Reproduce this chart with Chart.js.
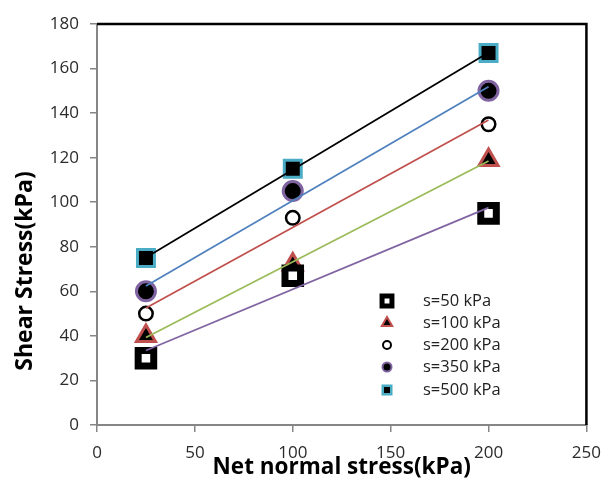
<!DOCTYPE html>
<html>
<head>
<meta charset="utf-8">
<script src="https://cdn.jsdelivr.net/npm/chart.js@4.4.1/dist/chart.umd.min.js"></script>
<style>
  html, body { margin: 0; padding: 0; background: #fff; }
  #wrap { width: 612px; height: 479px; }
</style>
</head>
<body>
<div id="wrap"><canvas id="shear-chart" width="612" height="479"></canvas></div>
<script>
// net normal stress (kPa) and shear stress (kPa) for each suction level
const netStress = [25, 100, 200];
const shear50 = [30, 67, 95];
const shear100 = [40, 72, 119];
const shear200 = [50, 93, 135];
const shear350 = [60, 105, 150];
const shear500 = [75, 115, 167];
const seriesLabels = ["s=50 kPa", "s=100 kPa", "s=200 kPa", "s=350 kPa", "s=500 kPa"];
const xTicks = [0, 50, 100, 150, 200, 250];
const yTicks = [0, 20, 40, 60, 80, 100, 120, 140, 160, 180];

const AXIS_GREY = "#868686";
const TEXT_GREY = "#2b2b2b";

// marker look for each series: plot size and legend size
const markers = [
  { style: "rect", fill: "#ffffff", border: "#000000", radius: 11, width: 7, legendRadius: 7, legendWidth: 5, line: "#8064a2" },
  { style: "triangle", fill: "#000000", border: "#c0504d", radius: 11, width: 3, legendRadius: 6, legendWidth: 2, line: "#9bbb59" },
  { style: "circle", fill: "#ffffff", border: "#000000", radius: 6.75, width: 2.5, legendRadius: 4, legendWidth: 2, line: "#c0504d" },
  { style: "circle", fill: "#000000", border: "#8064a2", radius: 9.5, width: 3, legendRadius: 4.5, legendWidth: 2, line: "#4f81bd" },
  { style: "rect", fill: "#000000", border: "#4bacc6", radius: 12, width: 3, legendRadius: 6, legendWidth: 2.5, line: "#000000" }
];
const allSeries = [shear50, shear100, shear200, shear350, shear500];

// least squares trend line through a series, evaluated at the first and last x
function trendLine(xs, ys) {
  const n = xs.length;
  const mx = xs.reduce((a, b) => a + b, 0) / n;
  const my = ys.reduce((a, b) => a + b, 0) / n;
  let sxy = 0, sxx = 0;
  for (let i = 0; i < n; i++) {
    sxy += (xs[i] - mx) * (ys[i] - my);
    sxx += (xs[i] - mx) * (xs[i] - mx);
  }
  const slope = sxy / sxx;
  const icpt = my - slope * mx;
  const x0 = xs[0], x1 = xs[n - 1];
  return [{ x: x0, y: icpt + slope * x0 }, { x: x1, y: icpt + slope * x1 }];
}

const datasets = [];
allSeries.forEach((ys, i) => {
  const m = markers[i];
  datasets.push({
    type: "scatter",
    label: seriesLabels[i],
    data: netStress.map((x, j) => ({ x: x, y: ys[j] })),
    pointStyle: m.style,
    pointRadius: m.radius,
    pointHoverRadius: m.radius,
    pointBackgroundColor: m.fill,
    pointBorderColor: m.border,
    pointBorderWidth: m.width,
    showLine: false,
    order: 2
  });
  datasets.push({
    type: "line",
    label: seriesLabels[i] + " trend",
    data: trendLine(netStress, ys),
    borderColor: m.line,
    borderWidth: 1.75,
    pointRadius: 0,
    fill: false,
    order: 1
  });
});

// black frame on the top and right of the plot area
const frame = {
  id: "frame",
  beforeDatasetsDraw(chart) {
    const { ctx, chartArea: a } = chart;
    ctx.save();
    ctx.strokeStyle = "#000";
    ctx.lineWidth = 2.5;
    ctx.beginPath();
    ctx.moveTo(a.left, a.top);
    ctx.lineTo(a.right, a.top);
    ctx.lineTo(a.right, a.bottom);
    ctx.stroke();
    ctx.restore();
  }
};

// legend box inside the plot and rotated y title
const sideText = {
  id: "sideText",
  afterDraw(chart) {
    const ctx = chart.ctx;
    ctx.save();
    const rows = [301, 323, 345, 367, 390];
    markers.forEach((m, i) => {
      ctx.fillStyle = m.fill;
      ctx.strokeStyle = m.border;
      ctx.lineWidth = m.legendWidth;
      Chart.helpers.drawPoint(ctx, {
        pointStyle: m.style, rotation: 0, radius: m.legendRadius, borderWidth: m.legendWidth
      }, 387, rows[i]);
      ctx.fillStyle = "#222";
      ctx.font = "16.5px 'Open Sans'";
      ctx.textAlign = "left";
      ctx.textBaseline = "middle";
      ctx.fillText(seriesLabels[i], 423, rows[i]);
    });

    ctx.translate(25, 271);
    ctx.rotate(-Math.PI / 2);
    ctx.fillStyle = "#000";
    ctx.font = "bold 23px 'Open Sans'";
    ctx.textAlign = "center";
    ctx.textBaseline = "middle";
    ctx.fillText("Shear Stress(kPa)", 0, 0);
    ctx.restore();
  }
};

Chart.defaults.font.family = "'Open Sans', sans-serif";

new Chart(document.getElementById("shear-chart"), {
  data: { datasets: datasets },
  options: {
    responsive: false,
    animation: false,
    events: [],
    layout: { padding: { left: 0, right: 17, top: 24, bottom: 0 } },
    plugins: {
      legend: { display: false },
      tooltip: { enabled: false }
    },
    scales: {
      x: {
        type: "linear",
        min: 0,
        max: 250,
        afterBuildTicks: (axis) => { axis.ticks = xTicks.map(v => ({ value: v })); },
        afterFit: (axis) => { axis.height = 54; },
        border: { color: AXIS_GREY, width: 2 },
        grid: { drawOnChartArea: false, tickLength: 7, color: AXIS_GREY, lineWidth: 1.5 },
        ticks: { color: TEXT_GREY, padding: 11, font: { size: 17 } },
        title: {
          display: true,
          text: "Net normal stress(kPa)",
          color: "#000",
          padding: 0,
          font: { size: 22.5, weight: "bold", lineHeight: 1 }
        }
      },
      y: {
        type: "linear",
        min: 0,
        max: 180,
        afterBuildTicks: (axis) => { axis.ticks = yTicks.map(v => ({ value: v })); },
        afterFit: (axis) => { axis.width = 97; },
        border: { color: AXIS_GREY, width: 2 },
        grid: { drawOnChartArea: false, tickLength: 7, color: AXIS_GREY, lineWidth: 1.5 },
        ticks: { color: TEXT_GREY, padding: 11, font: { size: 17 } }
      }
    }
  },
  plugins: [frame, sideText]
});
</script>
</body>
</html>
